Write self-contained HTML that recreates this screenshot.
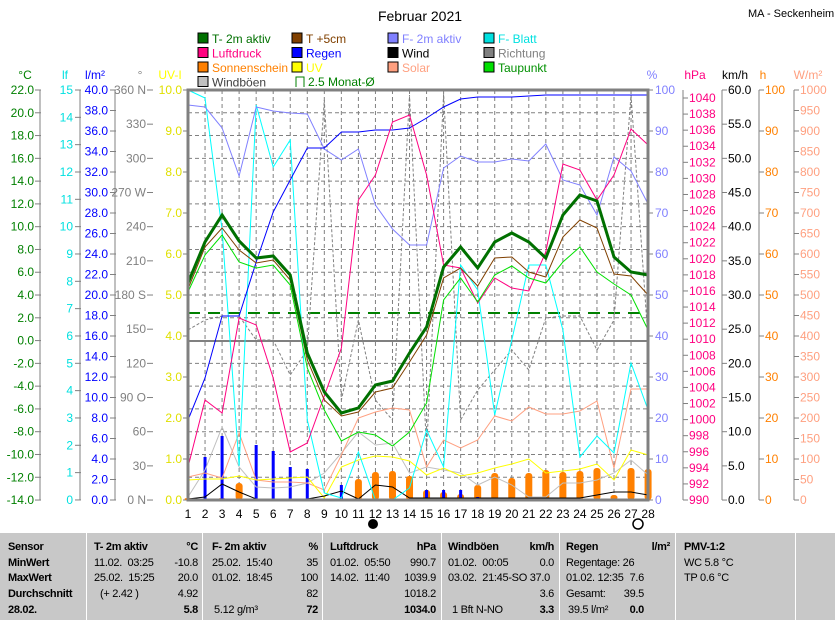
<!DOCTYPE html>
<html><head><meta charset="utf-8">
<style>
body{margin:0;background:#fff;width:835px;height:620px;overflow:hidden;font-family:"Liberation Sans",sans-serif;}
svg text{font-family:"Liberation Sans",sans-serif;}
#tbl{position:absolute;left:0;top:533px;width:835px;height:87px;background:#c8c8c8;font-size:11px;letter-spacing:-0.3px;}
#tbl div{position:absolute;white-space:nowrap;}
.b{font-weight:bold;}
.sep{position:absolute;top:0;width:1px;height:87px;background:#fff;}
</style></head><body>
<svg id="s" width="835" height="533" style="position:absolute;left:0;top:0"></svg>
<div id="tbl"></div>
<script>
const S=document.getElementById('s');let h='';
function t(x,y,s,c,a,fs,w){h+=`<text x="${x}" y="${y}" fill="${c}" font-size="${fs||12}" text-anchor="${a||'start'}" ${w?'font-weight="bold"':''}>${s}</text>`;}
function l(x1,y1,x2,y2,c,w,d){h+=`<line x1="${x1}" y1="${y1}" x2="${x2}" y2="${y2}" stroke="${c}" stroke-width="${w||1}" ${d?`stroke-dasharray="${d}"`:''}/>`;}
const X=i=>188+i*17.04;
function pl(a,c,w,d){h+=`<polyline fill="none" stroke="${c}" stroke-width="${w||1}" ${d?`stroke-dasharray="${d}"`:''} points="${a.map((y,i)=>X(i).toFixed(1)+','+y).join(' ')}"/>`;}
t(420,21,'Februar 2021','#000','middle',14);
t(748,17,'MA - Seckenheim','#000','start',11);
const L=[[198,'T- 2m aktiv','#007000'],[292,'T +5cm','#804000'],[388,'F- 2m aktiv','#8080ff'],[484,'F- Blatt','#00e0e0'],
[198,'Luftdruck','#ff0080'],[292,'Regen','#0000ff'],[388,'Wind','#000'],[484,'Richtung','#808080'],
[198,'Sonnenschein','#ff8000'],[292,'UV','#ffff00'],[388,'Solar','#ffa080'],[484,'Taupunkt','#00e000'],
[198,'Windböen','#c0c0c0']];
L.forEach((e,i)=>{const y=33+Math.floor(i/4)*14.5;h+=`<rect x="${e[0]}" y="${y}" width="10" height="10" fill="${e[2]}" stroke="#000"/>`;t(e[0]+14,y+10,e[1],e[1]=='Windböen'?'#404040':(e[1]=='Taupunkt'?'#009000':e[2]));});
h+=`<path d="M296,87 V77 H304 V87" fill="none" stroke="#008000"/>`;t(308,86,'2.5 Monat-Ø','#008000');
t(25,79,'°C','#008000','middle');t(65,79,'lf','#00e0e0','middle');t(95,79,'l/m²','#0000ff','middle');t(140,79,'°','#808080','middle');t(170,79,'UV-I','#ffff00','middle');
t(652,79,'%','#8080ff','middle');t(695,79,'hPa','#ff0080','middle');t(735,79,'km/h','#000','middle');t(763,79,'h','#ff8000','middle');t(808,79,'W/m²','#ffa080','middle');
[40,80,115].forEach(x=>l(x,90,x,500,'#808080'));
for(let i=0;i<=18;i++){const y=90+i*22.78;l(35,y,41,y,'#808080');t(34,y+4,(22-2*i).toFixed(1),'#008000','end');}
for(let i=0;i<=15;i++){const y=90+i*27.33;l(75,y,81,y,'#808080');t(73,y+4,15-i,'#00e0e0','end');}
for(let i=0;i<=20;i++){const y=90+i*20.5;l(110,y,116,y,'#808080');t(108,y+4,(40-2*i).toFixed(1),'#0000ff','end');}
const D=['360 N','330','300','270 W','240','210','180 S','150','120','90 O','60','30','0 N'];
D.forEach((s,i)=>{const y=90+i*34.17;l(147,y,153,y,'#808080');t(146,y+4,s,'#808080','end');});
for(let i=0;i<=10;i++){const y=90+i*41;l(183,y,188,y,'#808080');t(182,y+4,(10-i).toFixed(1),'#e0e000','end');}
for(let i=0;i<=10;i++){const y=90+i*41;l(648,y,653,y,'#808080');t(655,y+4,100-10*i,'#8080ff');}
l(683,90,683,500,'#808080');
for(let p=990;p<=1040;p+=2){const y=500-(p-990)*8.04;l(683,y,688,y,'#808080');t(689,y+4,p,'#ff0080');}
l(722,90,722,500,'#808080');
for(let i=0;i<=12;i++){const y=90+i*34.17;l(722,y,727,y,'#808080');t(728,y+4,(60-5*i).toFixed(1),'#000');}
l(759,90,759,500,'#808080');
for(let i=0;i<=10;i++){const y=90+i*41;l(759,y,764,y,'#808080');t(765,y+4,100-10*i,'#ff8000');}
l(794,90,794,500,'#808080');
for(let i=0;i<=20;i++){const y=90+i*20.5;l(794,y,799,y,'#808080');t(800,y+4,1000-50*i,'#ffa080');}
for(let i=1;i<27;i++)l(X(i),90,X(i),500,'#808080',1,'4,3');
for(let i=1;i<18;i++)l(188,90+i*22.78,648,90+i*22.78,'#808080',1,'4,3');
l(188,341,648,341,'#808080',2);
l(188,313,648,313,'#008000',2,'12,8');
for(let i=0;i<28;i++)t(X(i),518,i+1,'#000','middle');
h+=`<circle cx="373" cy="524" r="5" fill="#000"/><circle cx="638" cy="524" r="5" fill="#fff" stroke="#000" stroke-width="1.5"/>`;
const OR=[498,499,498,483,499,499,500,500,500,500,479,472,471,476,490,492,494,485,473,478,473,470,472,471,468,495,468,469];
OR.forEach((y,i)=>{if(y<499)h+=`<rect x="${X(i)-3.5}" y="${y}" width="7" height="${500-y}" rx="3" fill="#ff8000"/>`;});
const RB={0:422,1:457,2:436,4:445,5:451,6:467,7:469,9:485,14:490,15:490,16:490,17:497,21:498};
for(const k in RB)h+=`<rect x="${X(+k)-1.5}" y="${RB[k]}" width="3" height="${500-RB[k]}" fill="#0000ff"/>`;
pl([330,320,316,316,340,340,375,350,100,400,320,400,420,95,450,94,420,390,370,350,370,318,316,316,350,320,95,340],'#808080',1,'3,2');
pl([497,470,427,467,487,488,487,483,473,453,432,445,443,473,467,470,473,485,477,485,497,497,483,483,480,473,460,475],'#c0c0c0');
pl([477,473,478,433,480,482,482,483,490,455,418,412,408,410,467,440,448,440,416,421,407,414,414,411,401,468,389,389],'#ffa080');
pl([480,479,479,476,480,479,478,477,498,467,460,456,457,461,475,468,476,473,468,464,459,473,471,469,464,480,450,455],'#ffff00');
pl([499,497,484,492,499,499,499,499,496,491,499,485,487,498,498,498,498,498,498,498,498,498,498,498,495,492,492,495],'#000');
pl([90,98,230,466,105,167,140,420,493,498,452,500,500,488,430,467,265,290,415,340,265,265,330,457,436,453,363,410],'#00ffff');
pl([105,107,128,176,107,111,113,114,149,160,149,205,229,245,245,168,156,162,162,159,161,144,180,185,215,157,171,204],'#8080ff');
pl([420,378,316,316,262,212,180,148,148,132,132,130,130,128,118,107,99,97,97,97,96,95,95,95,95,95,95,95],'#0000ff');
pl([467,400,413,318,325,378,452,443,396,348,200,175,122,115,175,265,268,303,278,288,291,252,164,170,200,175,129,145],'#ff0080');
pl([292,255,235,262,268,265,285,368,410,441,432,435,446,432,403,300,278,302,275,266,278,283,262,247,272,284,295,330],'#00e000');
pl([289,247,228,250,263,260,280,360,400,416,412,392,388,362,335,278,268,286,258,257,272,277,237,220,228,274,276,295],'#804000');
pl([283,242,215,241,258,256,275,353,392,413,408,385,381,353,327,267,247,268,242,233,242,258,215,195,201,257,272,275],'#007000',3);
h+=`<rect x="188" y="90" width="460" height="410" fill="none" stroke="#808080" stroke-width="3"/>`;
S.innerHTML=h;
const T=document.getElementById('tbl');let g='';
[86,202,322,441,559,675,795].forEach(x=>g+=`<div class="sep" style="left:${x}px"></div>`);
function c(x,r,s,b,al){const y=8+r*15.7;g+=al?`<div class="${b?'b':''}" style="right:${835-x}px;top:${y}px">${s}</div>`:`<div class="${b?'b':''}" style="left:${x}px;top:${y}px">${s}</div>`;}
['Sensor','MinWert','MaxWert','Durchschnitt','28.02.'].forEach((s,i)=>c(8,i,s,1));
c(94,0,'T- 2m aktiv',1);c(198,0,'°C',1,1);c(94,1,'11.02.&nbsp; 03:25');c(198,1,'-10.8',0,1);c(94,2,'25.02.&nbsp; 15:25');c(198,2,'20.0',0,1);c(100,3,'(+ 2.42 )');c(198,3,'4.92',0,1);c(198,4,'5.8',1,1);
c(212,0,'F- 2m aktiv',1);c(318,0,'%',1,1);c(212,1,'25.02.&nbsp; 15:40');c(318,1,'35',0,1);c(212,2,'01.02.&nbsp; 18:45');c(318,2,'100',0,1);c(318,3,'82',0,1);c(214,4,'5.12 g/m³');c(318,4,'72',1,1);
c(330,0,'Luftdruck',1);c(436,0,'hPa',1,1);c(330,1,'01.02.&nbsp; 05:50');c(436,1,'990.7',0,1);c(330,2,'14.02.&nbsp; 11:40');c(436,2,'1039.9',0,1);c(436,3,'1018.2',0,1);c(436,4,'1034.0',1,1);
c(448,0,'Windböen',1);c(554,0,'km/h',1,1);c(448,1,'01.02.&nbsp; 00:05');c(554,1,'0.0',0,1);c(448,2,'03.02.&nbsp; 21:45-SO 37.0');c(554,3,'3.6',0,1);c(452,4,'1 Bft N-NO');c(554,4,'3.3',1,1);
c(566,0,'Regen',1);c(670,0,'l/m²',1,1);c(566,1,'Regentage: 26');c(566,2,'01.02. 12:35');c(644,2,'7.6',0,1);c(566,3,'Gesamt:');c(644,3,'39.5',0,1);c(568,4,'39.5 l/m²');c(644,4,'0.0',1,1);
c(684,0,'PMV-1:2',1);c(684,1,'WC 5.8 °C');c(684,2,'TP 0.6 °C');
T.innerHTML=g;
</script>
</body></html>
